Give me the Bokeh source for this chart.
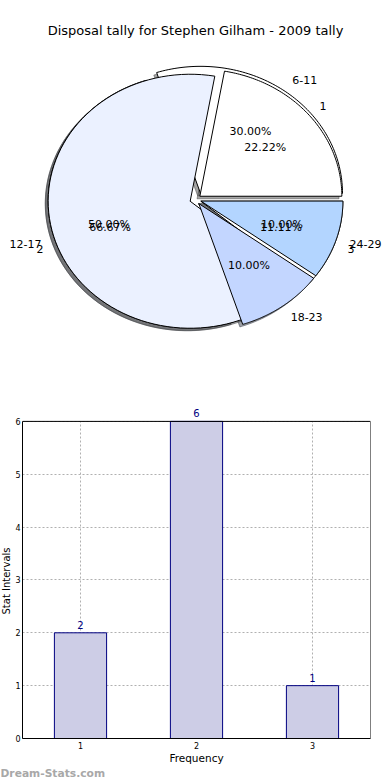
import numpy as np
from bokeh.plotting import figure
from bokeh.models import Range1d, ColumnDataSource, LabelSet, FixedTicker
from bokeh.layouts import column, row
from bokeh.embed import file_html
from bokeh.resources import INLINE
from bokeh.core.properties import value

# ---------------- data ----------------
title_text = "Disposal tally for Stephen Gilham - 2009 tally"
age_groups = ["6-11", "12-17", "18-23", "24-29"]
age_counts = [3, 5, 1, 1]
freq_labels = ["1", "2", "3"]
freq_values = [1, 2, 3]
freq_counts = [2, 6, 1]
x_ticks = [1, 2, 3]
y_ticks = [0, 1, 2, 3, 4, 5, 6]
x_lim = (0.5, 3.5)
y_lim = (0, 6)
x_axis_title = "Frequency"
y_axis_title = "Stat Intervals"
watermark = "Dream-Stats.com"

# ---------------- style ----------------
FONT = "DejaVu Sans"
outer_colors = ["#ffffff", "#ebf1ff", "#c3d6ff", "#b3d5ff"]
inner_colors = ["#ffffff", "#ebf1ff", "#ffffff"]
outer_explode = [0.06, 0.04, 0.04, 0.04]
inner_explode = [0.04, 0.04, 0.04]

W = 390
PIE_H = 398
BAR_H = 368
WM_H = 780 - PIE_H - BAR_H
LAB_W = 12
# pie geometry (page pixels)
CX, CY = 195.0, 199.0
RX, RY = 142.0, 127.0


def no_align(f):
    try:
        f.frame_align = False
    except Exception:
        pass


def bare(f):
    f.outline_line_color = None
    f.xgrid.visible = False
    f.ygrid.visible = False
    no_align(f)


def pie_layout(counts, explode):
    total = float(sum(counts))
    out = []
    t = 0.0
    for c, e in zip(counts, explode):
        frac = c / total
        t1, t2 = 360.0 * t, 360.0 * (t + frac)
        mid = np.radians((t1 + t2) / 2.0)
        out.append(dict(t1=t1, t2=t2, mid=mid,
                        ox=e * np.cos(mid), oy=e * np.sin(mid), pct=100.0 * frac))
        t += frac
    return out


def wedge_poly(ox, oy, t1, t2, n=90):
    th = np.radians(np.linspace(t1, t2, n))
    xs = np.concatenate([[ox], ox + np.cos(th), [ox]])
    ys = np.concatenate([[oy], oy + np.sin(th), [oy]])
    return list(xs), list(ys)


def darker(hexcol, f=0.3):
    h = hexcol.lstrip("#")
    r, g, b = (int(h[i:i + 2], 16) for i in (0, 2, 4))
    return "#%02x%02x%02x" % (int(r * f), int(g * f), int(b * f))


outer = pie_layout(age_counts, outer_explode)
inner = pie_layout(freq_counts, inner_explode)

# ---------------- pie ----------------
p = figure(width=W, height=PIE_H,
           x_range=Range1d((0 - CX) / RX, (W - CX) / RX),
           y_range=Range1d((CY - PIE_H) / RY, CY / RY),
           output_backend="svg", toolbar_location=None, title=None,
           x_axis_location=None, y_axis_location=None, min_border=0)
bare(p)

sh_xs, sh_ys, sh_c = [], [], []
for wl, cols in ((outer, outer_colors), (inner, inner_colors)):
    for w, c in zip(wl, cols):
        xs, ys = wedge_poly(w["ox"] - 0.02, w["oy"] - 0.02, w["t1"], w["t2"])
        sh_xs.append(xs); sh_ys.append(ys); sh_c.append(darker(c))
p.patches(xs=sh_xs, ys=sh_ys, fill_color=sh_c, fill_alpha=0.5,
          line_color=sh_c, line_alpha=0.5, line_width=1)

order = [("o", 0), ("o", 1), ("i", 2), ("i", 1), ("o", 2), ("o", 3), ("i", 0)]
for kind, k in order:
    w = outer[k] if kind == "o" else inner[k]
    col = outer_colors[k] if kind == "o" else inner_colors[k]
    xs, ys = wedge_poly(w["ox"], w["oy"], w["t1"], w["t2"])
    p.patch(x=xs, y=ys, fill_color=col, line_color="black", line_width=1)


def add_labels(wl, names):
    for w, name in zip(wl, names):
        lx = w["ox"] + 1.1 * np.cos(w["mid"])
        ly = w["oy"] + 1.1 * np.sin(w["mid"])
        p.text(x=[lx], y=[ly], text=[name],
               text_align="left" if lx > 0 else "right", text_baseline="middle",
               text_font=value(FONT), text_font_size="11px", text_color="black")
        px = w["ox"] + 0.6 * np.cos(w["mid"])
        py = w["oy"] + 0.6 * np.sin(w["mid"])
        p.text(x=[px], y=[py], text=["%.2f%%" % w["pct"]],
               text_align="center", text_baseline="middle",
               text_font=value(FONT), text_font_size="11px", text_color="black")


add_labels(outer, age_groups)
add_labels(inner, freq_labels)

p.text(x=[0.0], y=[(CY - 30) / RY], text=[title_text], text_align="center",
       text_baseline="middle", text_font=value(FONT), text_font_size="13px",
       text_color="black")

# ---------------- bar chart ----------------
FRAME_L, FRAME_R = 19.0, 370.0
FRAME_B = 740.0
PPU_Y = (740.0 - 421.0) / 6.0
TOP_PAD = 16.0
frame_top = FRAME_B - (y_lim[1] - y_lim[0]) * PPU_Y - TOP_PAD
b_top = int(round(frame_top - PIE_H))
b_bottom = int(PIE_H + BAR_H - FRAME_B)
bar_y_range = Range1d(y_lim[0], y_lim[1] + TOP_PAD / PPU_Y)

b = figure(width=W - LAB_W, height=BAR_H, x_range=Range1d(*x_lim), y_range=bar_y_range,
           output_backend="svg", toolbar_location=None, title=None,
           min_border_left=int(FRAME_L - LAB_W), min_border_right=int(W - FRAME_R),
           min_border_top=b_top, min_border_bottom=b_bottom)
b.outline_line_color = None
no_align(b)

b.vbar(x=freq_values, top=freq_counts, width=0.45, fill_color="#cdcde6",
       line_color="#000080", line_width=1)
b.quad(left=[x_lim[0]], right=[x_lim[1]], bottom=[y_lim[0]], top=[y_lim[1]],
       fill_color=None, line_color="black", line_width=1)

b.xaxis.ticker = FixedTicker(ticks=x_ticks)
b.yaxis.ticker = FixedTicker(ticks=y_ticks)
b.yaxis.bounds = y_lim
for ax in (b.xaxis, b.yaxis):
    ax.axis_line_color = "black"
    ax.major_tick_line_color = None
    ax.minor_tick_line_color = None
    ax.major_tick_out = 0
    ax.major_tick_in = 0
    ax.minor_tick_out = 0
    ax.minor_tick_in = 0
    ax.major_label_text_font = FONT
    ax.major_label_text_font_size = "8px"
    ax.major_label_text_color = "black"
b.xaxis.major_label_standoff = 3
b.yaxis.major_label_standoff = 2
b.xaxis.axis_label = x_axis_title
b.xaxis.axis_label_text_font = FONT
b.xaxis.axis_label_text_font_size = "10.5px"
b.xaxis.axis_label_text_font_style = "normal"
b.xaxis.axis_label_text_color = "black"
b.xaxis.axis_label_standoff = 0

for g, cb in ((b.xgrid, y_lim), (b.ygrid, x_lim)):
    g.grid_line_color = "#b0b0b0"
    g.grid_line_dash = "2 2"
    g.grid_line_width = 1
    try:
        g.cross_bounds = cb
    except Exception:
        pass

src = ColumnDataSource(dict(x=freq_values, y=freq_counts, t=[str(c) for c in freq_counts]))
b.add_layout(LabelSet(x="x", y="y", text="t", source=src, text_align="center",
                      text_baseline="middle", y_offset=8, text_font=value(FONT),
                      text_font_size="10px", text_color="#000080"))

# y axis title strip
lab = figure(width=LAB_W, height=BAR_H, x_range=Range1d(0, LAB_W), y_range=bar_y_range,
             output_backend="svg", toolbar_location=None, title=None,
             x_axis_location=None, y_axis_location=None,
             min_border_left=0, min_border_right=0,
             min_border_top=b_top, min_border_bottom=b_bottom)
bare(lab)
lab.text(x=[6.0], y=[(y_lim[0] + y_lim[1]) / 2.0], text=[y_axis_title], angle=np.pi / 2,
         text_align="center", text_baseline="middle", text_font=value(FONT),
         text_font_size="10px", text_color="black")

# watermark strip
wm = figure(width=W, height=WM_H, x_range=Range1d(0, W), y_range=Range1d(WM_H, 0),
            output_backend="svg", toolbar_location=None, title=None,
            x_axis_location=None, y_axis_location=None, min_border=0)
bare(wm)
wm.text(x=[0.0], y=[WM_H / 2.0], text=[watermark], text_align="left",
        text_baseline="middle", text_font=value(FONT), text_font_size="10.7px",
        text_font_style="bold", text_color="#a8a8a8")

layout = column(p, row(lab, b, spacing=0), wm, spacing=0)
open("out.html", "w").write(file_html(layout, INLINE))
